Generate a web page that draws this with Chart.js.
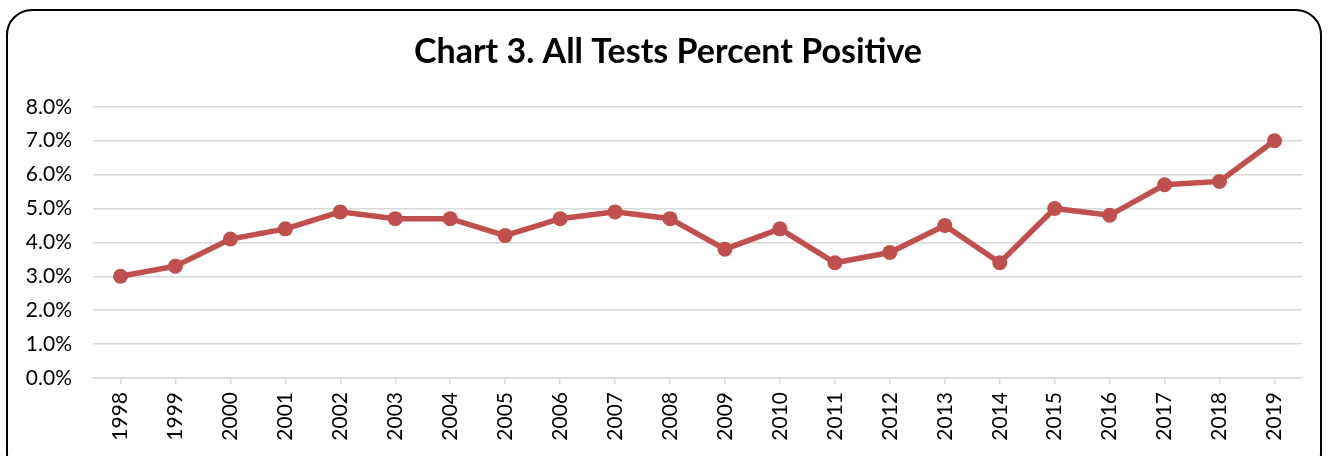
<!DOCTYPE html>
<html>
<head>
<meta charset="utf-8">
<script src="https://cdn.jsdelivr.net/npm/chart.js@4"></script>
<style>
  html, body { margin: 0; padding: 0; background: #fff; }
  body { width: 1328px; height: 456px; position: relative; overflow: hidden; }
  #frame {
    position: absolute; left: 6px; top: 9px; width: 1316px; height: 470px;
    border: 2px solid #000; border-radius: 26px; box-sizing: border-box;
  }
  #wrap { position: absolute; left: 0; top: 0; width: 1328px; height: 456px; }
</style>
</head>
<body>
<div id="frame"></div>
<div id="wrap"><canvas id="posChart"></canvas></div>
<script>
const years = ['1998', '1999', '2000', '2001', '2002', '2003', '2004', '2005', '2006', '2007', '2008',
  '2009', '2010', '2011', '2012', '2013', '2014', '2015', '2016', '2017', '2018', '2019'];
const percentPositive = [3.0, 3.3, 4.1, 4.4, 4.9, 4.7, 4.7, 4.2, 4.7, 4.9, 4.7,
  3.8, 4.4, 3.4, 3.7, 4.5, 3.4, 5.0, 4.8, 5.7, 5.8, 7.0];
const yTicks = [0, 1, 2, 3, 4, 5, 6, 7, 8];

const fontFamily = 'Lato, "Open Sans", sans-serif';

// the original title sits centred on the whole frame, not on the plot
const centreTitle = {
  id: 'centreTitle',
  afterLayout(chart) {
    if (chart.titleBlock) chart.titleBlock.left = 34;
  }
};

const ctx = document.getElementById('posChart').getContext('2d');
new Chart(ctx, {
  type: 'line',
  data: {
    labels: years,
    datasets: [{
      label: 'All Tests Percent Positive',
      data: percentPositive,
      borderColor: '#C0504D',
      backgroundColor: '#C0504D',
      borderWidth: 5.5,
      pointRadius: 7.5,
      pointHoverRadius: 7.5,
      pointBorderWidth: 0,
      tension: 0,
      fill: false
    }]
  },
  options: {
    responsive: true,
    maintainAspectRatio: false,
    animation: false,
    layout: { padding: { top: 0, left: 0, right: 26, bottom: 0 } },
    plugins: {
      legend: { display: false },
      tooltip: { enabled: false },
      title: {
        display: true,
        text: 'Chart 3. All Tests Percent Positive',
        color: '#000',
        font: { family: fontFamily, size: 34, weight: 'bold', lineHeight: 1.2 },
        padding: { top: 32, bottom: 34 }
      }
    },
    scales: {
      x: {
        offset: true,
        afterFit: (scale) => { scale.height = 78; },
        grid: { drawOnChartArea: false, drawTicks: true, tickLength: 6, color: '#d9d9d9', lineWidth: 1.5 },
        border: { color: '#d9d9d9', width: 1.5 },
        ticks: {
          color: '#000',
          font: { family: fontFamily, size: 21 },
          minRotation: 90, maxRotation: 90,
          autoSkip: false, padding: 8
        }
      },
      y: {
        min: 0, max: 8,
        afterFit: (scale) => { scale.width = 93; },
        afterBuildTicks: (scale) => { scale.ticks = yTicks.map(v => ({ value: v })); },
        grid: { color: '#d9d9d9', lineWidth: 1.5, drawTicks: false },
        border: { display: false },
        ticks: {
          color: '#000',
          font: { family: fontFamily, size: 21 },
          padding: 21,
          callback: (v) => v.toFixed(1) + '%'
        }
      }
    }
  },
  plugins: [centreTitle]
});
</script>
</body>
</html>
